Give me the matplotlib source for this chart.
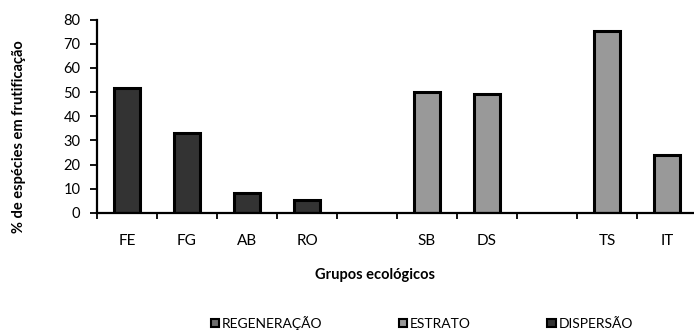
import matplotlib
matplotlib.use("Agg")
import matplotlib.pyplot as plt
from matplotlib.patches import Patch

categories = ["FE", "FG", "AB", "RO", "", "SB", "DS", "", "TS", "IT"]
values = [51.6, 33.0, 8.2, 5.2, None, 50.0, 49.3, None, 75.3, 23.8]
groups = ["DISPERSÃO"] * 4 + [None] + ["ESTRATO"] * 2 + [None] + ["ESTRATO"] * 2
legend_labels = ["REGENERAÇÃO", "ESTRATO", "DISPERSÃO"]
legend_colors = {"REGENERAÇÃO": "#6e6e6e", "ESTRATO": "#999999", "DISPERSÃO": "#333333"}
yticks = [0, 10, 20, 30, 40, 50, 60, 70, 80]

plt.rcParams['font.family'] = ['Lato', 'DejaVu Sans']

fig = plt.figure(figsize=(6.94, 3.31), dpi=100)
ax = fig.add_axes([97/694, (331-213)/331, 600/694, 193.5/331])

for i, (v, g) in enumerate(zip(values, groups)):
    if v is None:
        continue
    ax.bar(i + 0.5, v, width=0.42, color=legend_colors[g], edgecolor="black", linewidth=2.2)

ax.set_xlim(0, len(categories))
ax.set_ylim(0, 80)
ax.set_yticks(yticks)
ax.set_yticklabels([str(t) for t in yticks], fontsize=10.5)
ax.set_xticks(range(len(categories) + 1))
ax.set_xticklabels([])
ax.set_xticks([i + 0.5 for i in range(len(categories))], minor=True)
ax.set_xticklabels(categories, minor=True, fontsize=11)
ax.tick_params(axis='x', which='minor', length=0, pad=15)
ax.tick_params(axis='x', which='major', length=4, width=1.3, direction='out')
ax.tick_params(axis='y', length=5, width=1.3, direction='out', pad=7)

for s in ["top", "right"]:
    ax.spines[s].set_visible(False)
for s in ["left", "bottom"]:
    ax.spines[s].set_linewidth(1.6)

ax.set_ylabel("% de espécies em frutificação", fontsize=10.5, fontweight='bold')
ax.yaxis.set_label_coords((26 - 97) / 600, (213 - 137) / 193.5)
ax.set_xlabel("Grupos ecológicos", fontsize=10.5, fontweight='bold')
ax.xaxis.set_label_coords((375 - 97) / 600, -(268 - 213) / 193.5)

handles = [Patch(facecolor=legend_colors[l], edgecolor="black", linewidth=1.5) for l in legend_labels]
fig.legend(handles, legend_labels, loc='center', bbox_to_anchor=(422/694, 1 - 323/331),
           ncol=3, frameon=False, fontsize=10, handlelength=0.6, handleheight=0.6,
           handletextpad=0.2, columnspacing=5.5)

fig.savefig("out.png", dpi=100)
